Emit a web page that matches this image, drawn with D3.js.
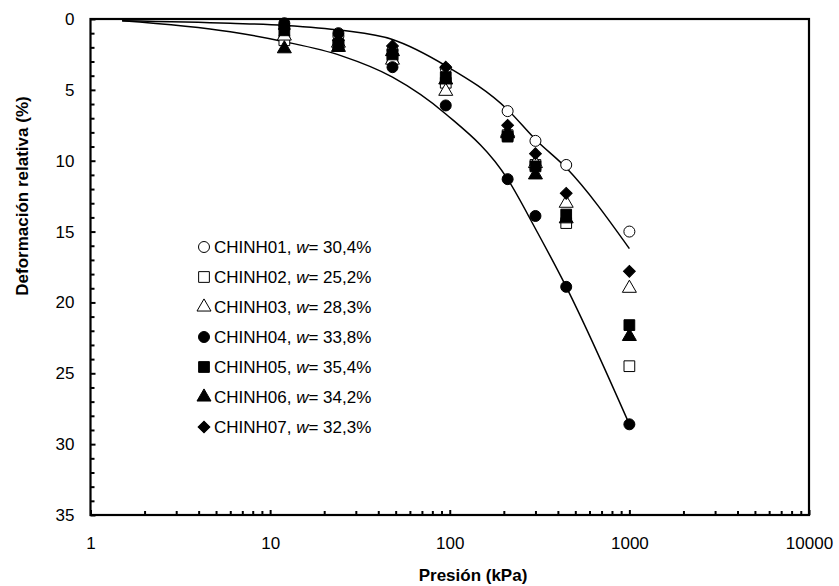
<!DOCTYPE html>
<html>
<head>
<meta charset="utf-8">
<script src="https://cdn.jsdelivr.net/npm/d3@7"></script>
<style>
  body { margin: 0; background: #fff; }
  text { font-family: "Liberation Sans", Arial, sans-serif; }
</style>
</head>
<body>
<svg class="canvas" width="839" height="586"></svg>
<script>
// presiones de ensayo (kPa)
var presion = [12, 24, 48, 95, 210, 300, 445, 1000]

var muestras = ['CHINH01', 'CHINH02', 'CHINH03', 'CHINH04', 'CHINH05', 'CHINH06', 'CHINH07']
var humedad = ['30,4%', '25,2%', '28,3%', '33,8%', '35,4%', '34,2%', '32,3%']
var simbolos = ['circle', 'square', 'triangle', 'circle', 'square', 'triangle', 'diamond']
var rellenos = [false, false, false, true, true, true, true]

// deformacion relativa (%)
var chinh01 = [0.5, 1.2, 2.2, 3.5, 6.5, 8.6, 10.3, 15.0]
var chinh02 = [1.5, 1.9, 2.8, 4.5, 8.2, 10.3, 14.4, 24.5]
var chinh03 = [1.2, 1.7, 2.9, 5.1, 8.0, 10.2, 13.0, 19.0]
var chinh04 = [0.3, 1.0, 3.4, 6.1, 11.3, 13.9, 18.9, 28.6]
var chinh05 = [0.8, 1.8, 2.5, 4.1, 8.3, 10.4, 13.8, 21.6]
var chinh06 = [2.1, 2.0, 2.3, 4.3, 8.1, 11.0, 14.1, 22.4]
var chinh07 = [0.7, 1.5, 1.9, 3.4, 7.5, 9.5, 12.3, 17.8]
var series = [chinh01, chinh02, chinh03, chinh04, chinh05, chinh06, chinh07]

// curvas de ajuste
var curvaSupP = [1.5, 6, 12, 25, 48, 95, 210, 300, 445, 1000]
var curvaSupD = [0.12, 0.3, 0.45, 0.8, 1.45, 3.3, 6.4, 8.5, 10.5, 16.2]
var curvaInfP = [1.5, 6, 12, 25, 48, 95, 210, 300, 445, 1000]
var curvaInfD = [0.12, 0.9, 1.6, 2.6, 4.1, 6.7, 11.3, 14.8, 18.9, 28.6]

var xTicks = [1, 10, 100, 1000, 10000]
var yTicks = [0, 5, 10, 15, 20, 25, 30, 35]

var pl = 90.5, pr = 809, pt = 19, pb = 515

var x = d3.scaleLog().domain([1, 10000]).range([pl, pr])
var y = d3.scaleLinear().domain([0, 35]).range([pt, pb])

var svg = d3.select('.canvas')

// ticks menores
var minX = []
for (var e = 0; e < 4; e++) for (var m = 2; m < 10; m++) minX.push(m * Math.pow(10, e))
var minY = d3.range(0, 36).filter(function(v) { return v % 5 })

function sinDominio(g) { g.select('.domain').remove() }

svg.append('g')
    .attr('transform', 'translate(0,' + pb + ')')
    .call(d3.axisBottom(x).tickValues(minX).tickSize(-4).tickFormat(''))
    .call(sinDominio)
    .selectAll('line').attr('stroke', '#000').attr('stroke-width', 2)

svg.append('g')
    .attr('transform', 'translate(' + pl + ',0)')
    .call(d3.axisLeft(y).tickValues(minY).tickSize(-4).tickFormat(''))
    .call(sinDominio)
    .selectAll('line').attr('stroke', '#000').attr('stroke-width', 2)

var gx = svg.append('g')
    .attr('transform', 'translate(0,' + pb + ')')
    .call(d3.axisBottom(x).tickValues(xTicks).tickSize(-5).tickPadding(22).tickFormat(d3.format('d')))
    .call(sinDominio)
gx.selectAll('line').attr('stroke', '#000').attr('stroke-width', 2)
gx.selectAll('text').attr('font-size', 17).attr('fill', '#000')
    .style('font-family', '"Liberation Sans", Arial, sans-serif')

var gy = svg.append('g')
    .attr('transform', 'translate(' + pl + ',0)')
    .call(d3.axisLeft(y).tickValues(yTicks).tickSize(-5).tickPadding(16))
    .call(sinDominio)
gy.selectAll('line').attr('stroke', '#000').attr('stroke-width', 2)
gy.selectAll('text').attr('font-size', 17).attr('fill', '#000')
    .style('font-family', '"Liberation Sans", Arial, sans-serif')

// marco
svg.append('rect')
    .attr('x', pl).attr('y', pt)
    .attr('width', pr - pl).attr('height', pb - pt)
    .attr('fill', 'none').attr('stroke', '#000').attr('stroke-width', 2.2)

// curvas
var linea = d3.line()
    .x(function(d) { return x(d[0]) })
    .y(function(d) { return y(d[1]) })
    .curve(d3.curveMonotoneX)

;[[curvaSupP, curvaSupD], [curvaInfP, curvaInfD]].forEach(function(c) {
    svg.append('path')
        .datum(c[0].map(function(p, i) { return [p, c[1][i]] }))
        .attr('d', linea)
        .attr('fill', 'none')
        .attr('stroke', '#000')
        .attr('stroke-width', 1.5)
})

var formas = {
    circle: d3.symbol().type(d3.symbolCircle).size(95),
    square: d3.symbol().type(d3.symbolSquare).size(115),
    triangle: d3.symbol().type(d3.symbolTriangle).size(85),
    diamond: d3.symbol().type(d3.symbolSquare).size(70)
}

function marca(g, i) {
    g.attr('d', formas[simbolos[i]]())
        .attr('fill', rellenos[i] ? '#000' : '#fff')
        .attr('stroke', '#000')
        .attr('stroke-width', 1)
}
function giro(i) { return simbolos[i] == 'diamond' ? ' rotate(45)' : '' }

series.forEach(function(s, i) {
    svg.append('g').selectAll('path')
        .data(s)
        .enter().append('path')
        .attr('transform', function(d, j) { return 'translate(' + x(presion[j]) + ',' + y(d) + ')' + giro(i) })
        .call(marca, i)
})

// leyenda
var ley = svg.append('g').attr('transform', 'translate(204,247)')
muestras.forEach(function(m, i) {
    var r = ley.append('g').attr('transform', 'translate(0,' + (i * 30) + ')')
    r.append('path').attr('transform', giro(i).trim()).call(marca, i)
    var t = r.append('text').attr('x', 10).attr('y', 6).attr('font-size', 17).attr('fill', '#000')
    t.append('tspan').text(m + ', ')
    t.append('tspan').attr('font-style', 'italic').text('w')
    t.append('tspan').text('= ' + humedad[i])
})

// titulos
svg.append('text')
    .attr('x', 473).attr('y', 581)
    .attr('text-anchor', 'middle')
    .attr('font-size', 17).attr('font-weight', 'bold')
    .text('Presión (kPa)')

svg.append('text')
    .attr('transform', 'translate(28,196) rotate(-90)')
    .attr('text-anchor', 'middle')
    .attr('font-size', 17).attr('font-weight', 'bold')
    .text('Deformación relativa (%)')
</script>
</body>
</html>
